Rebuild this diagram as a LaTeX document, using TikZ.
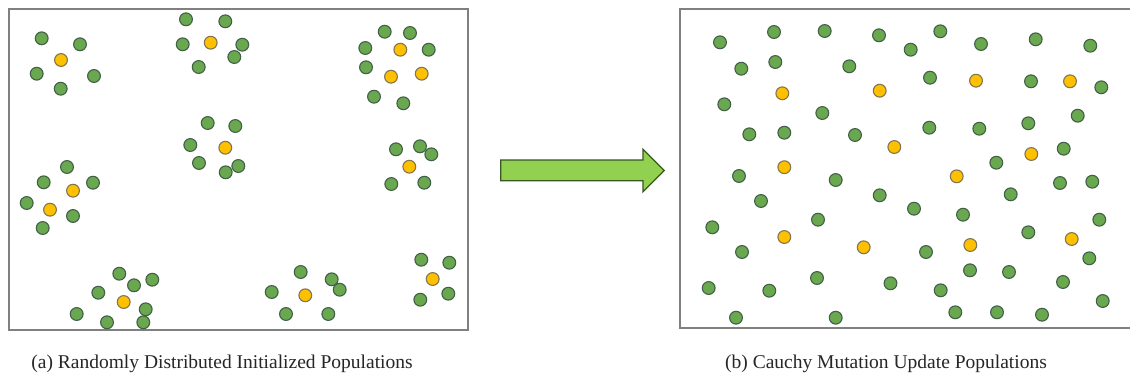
\documentclass[tikz,border=0pt]{standalone}
\usepackage{fontspec}
\setmainfont{Liberation Serif}
\definecolor{dotgreen}{RGB}{106,168,79}
\definecolor{dotgreenline}{RGB}{66,96,72}
\definecolor{dotyellow}{RGB}{255,192,0}
\definecolor{dotyellowline}{RGB}{130,118,80}
\definecolor{boxgray}{RGB}{128,128,128}
\definecolor{arrowfill}{RGB}{146,208,80}
\definecolor{arrowline}{RGB}{56,87,35}
\tikzset{
  gdot/.style={circle,fill=dotgreen,draw=dotgreenline,line width=1.1pt,minimum size=12.8pt,inner sep=0pt},
  ydot/.style={circle,fill=dotyellow,draw=dotyellowline,line width=1.1pt,minimum size=12.8pt,inner sep=0pt},
  panel/.style={draw=boxgray,line width=1.8pt},
  caption/.style={font=\fontsize{19.5}{22}\selectfont,text=black!85},
}
\begin{document}
\begin{tikzpicture}[x=1pt,y=-1pt]
\useasboundingbox (0,0) rectangle (1130,378);
\fill[white] (0,0) rectangle (1130,378);
% panels
\draw[panel] (9,9) rectangle (468,330);
\draw[panel] (680,9) rectangle (1134,328);
% left panel green dots
\foreach \x/\y [count=\i] in {
  41.7/38.3, 80/44.3, 36.7/73.7, 94/76, 60.7/88.7,
  186/19.3, 225.3/21.3, 182.7/44.3, 242.3/44.7, 234.3/57, 198.7/67,
  207.7/123, 235.3/126, 190.3/145, 199/163, 225.7/172.3, 238.3/166,
  384.7/31.7, 410/33, 365.3/48, 428.7/49.7, 366/67.3, 374/96.7, 403.3/103.3,
  396/149.3, 420/146.3, 431.3/154.3, 391.3/184, 424.3/182.7,
  67/167, 43.7/182.3, 93/182.7, 26.7/203, 73/216, 42.7/228,
  119.3/273.7, 134/285.3, 152.3/279.7, 98.3/292.7, 145.7/309.3, 76.7/314, 107/322.3, 143.3/322.3,
  300.7/272, 331.7/279.3, 339.7/289.7, 271.7/292, 286/314, 328.3/314,
  421.3/259.7, 449.3/262.7, 420.3/299.7, 448.3/293.7}
  \node[gdot] (lg\i) at (\x,\y) {};
% left panel yellow dots
\foreach \x/\y [count=\i] in {
  61/60, 210.7/42.7, 225.3/147.7, 400.3/49.7, 391/76.7, 421.7/73.7,
  409.3/166.7, 73/190.7, 50/209.7, 123.7/302, 305.3/295.3, 432.7/279}
  \node[ydot] (ly\i) at (\x,\y) {};
% right panel green dots
\foreach \x/\y [count=\i] in {
  720/42.3, 774/32, 824.7/31, 879/35.3, 741.3/68.7, 775.3/62, 849.3/66.3,
  724.3/104.3, 822.3/113, 749.3/134.3, 784.3/132.7, 855/135,
  910.7/49.7, 940.3/31.3, 981/44, 1035.7/39.3, 1090.3/45.7, 930/77.7,
  1031/81.3, 1101.3/87.3, 1077.7/115.7, 929.3/127.7, 979.3/128.7, 1028.3/123.3,
  1063.7/148.7, 996.3/162.7,
  739/176, 835.7/180, 879.7/195.3, 761/201, 818/219.7, 712.3/227.3, 742/252,
  817/278, 708.7/288, 769.3/290.7, 890.5/283.3, 736/317.7, 835.7/317.7,
  1060/183, 1092.3/181.7, 1010.7/194.3, 914/208.7, 963/214.7, 1099.3/219.7,
  1028.3/232.3, 926/252, 1089.3/258.3, 970/270.3, 1009/272, 1063/282,
  940.7/290.3, 1102.7/301, 955.3/312.3, 997/312.3, 1042/314.7}
  \node[gdot] (rg\i) at (\x,\y) {};
% right panel yellow dots
\foreach \x/\y [count=\i] in {
  782.3/93.3, 879.7/90.7, 894.3/147, 784.3/167.2, 976/80.7, 1070/81.3,
  1031.3/154, 956.7/176.3, 784.3/237, 863.7/247.3, 970.3/245, 1071.7/239}
  \node[ydot] (ry\i) at (\x,\y) {};
% arrow
\draw[fill=arrowfill,draw=arrowline,line width=1.3pt,line join=miter]
  (500.7,160) -- (643,160) -- (643,149.3) -- (664.3,170.5) -- (643,191.7)
  -- (643,180.7) -- (500.7,180.7) -- cycle;
% captions
\node[caption] (capa) at (222,364) {(a) Randomly Distributed Initialized Populations};
\node[caption] (capb) at (886,364) {(b) Cauchy Mutation Update Populations};
\end{tikzpicture}
\end{document}
